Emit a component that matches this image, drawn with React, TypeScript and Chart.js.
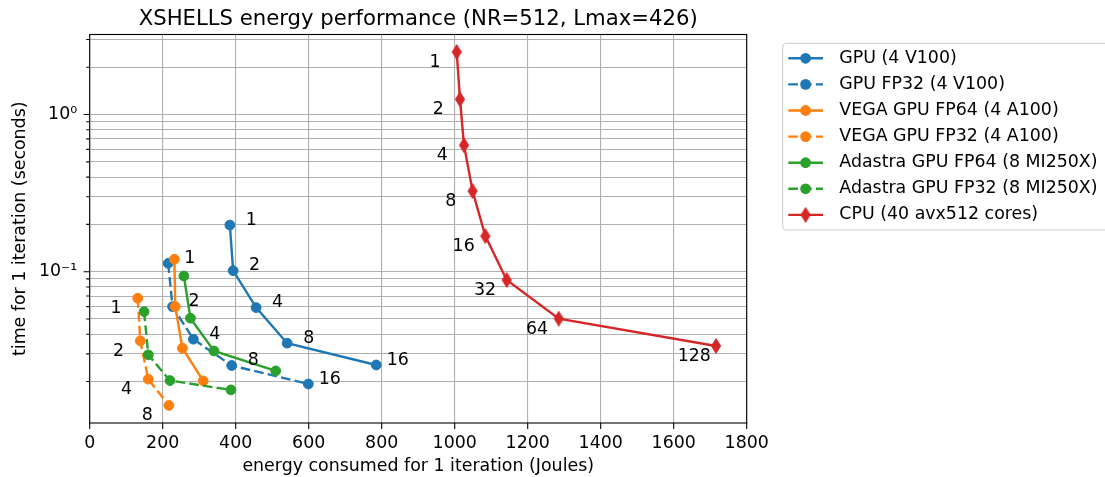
import React, { useEffect, useRef } from "react";
import { Chart, registerables } from "chart.js";

Chart.register(...registerables);

const FONT = "'DejaVu Sans', 'Liberation Sans', sans-serif";

// ---- data ----
const seriesLabels = [
  "GPU (4 V100)",
  "GPU FP32 (4 V100)",
  "VEGA GPU FP64 (4 A100)",
  "VEGA GPU FP32 (4 A100)",
  "Adastra GPU FP64 (8 MI250X)",
  "Adastra GPU FP32 (8 MI250X)",
  "CPU (40 avx512 cores)",
];

const gpuV100X = [384, 393, 456, 541, 785];
const gpuV100Y = [0.198, 0.1015, 0.0591, 0.0351, 0.0255];
const gpuV100F32X = [215, 227, 284, 389, 599];
const gpuV100F32Y = [0.113, 0.0599, 0.0372, 0.0253, 0.0193];
const vegaF64X = [232, 234.5, 254, 311];
const vegaF64Y = [0.12, 0.0599, 0.0326, 0.0202];
const vegaF32X = [131.5, 138.6, 160.5, 217];
const vegaF32Y = [0.0678, 0.0363, 0.0207, 0.0141];
const adastraF64X = [258, 276, 340.5, 509.6];
const adastraF64Y = [0.0939, 0.0506, 0.0313, 0.0234];
const adastraF32X = [149, 160.5, 220, 387];
const adastraF32Y = [0.0557, 0.0296, 0.0203, 0.0177];
const cpuX = [1005.5, 1014.5, 1025.5, 1049, 1084, 1142.5, 1285, 1716];
const cpuY = [2.5, 1.25, 0.638, 0.326, 0.1685, 0.0886, 0.0503, 0.0337];

const gpuCounts = [1, 2, 4, 8, 16];
const vegaCounts = [1, 2, 4, 8];
const cpuCounts = [1, 2, 4, 8, 16, 32, 64, 128];

const xTicks = [0, 200, 400, 600, 800, 1000, 1200, 1400, 1600, 1800];
const yTicks = [
  0.02, 0.03, 0.04, 0.05, 0.06, 0.07, 0.08, 0.09,
  0.1, 0.2, 0.3, 0.4, 0.5, 0.6, 0.7, 0.8, 0.9,
  1, 2, 3,
];
const yMajorTicks = [0.1, 1];
const yMajorLabels = ["10⁻¹", "10⁰"];

const X_MIN = 0;
const X_MAX = 1800;
const Y_MIN = 0.0109;
const Y_MAX = 3.23;

const title = "XSHELLS energy performance (NR=512, Lmax=426)";
const xTitle = "energy consumed for 1 iteration (Joules)";
const yTitle = "time for 1 iteration (seconds)";

const BLUE = "#1f77b4";
const ORANGE = "#ff7f0e";
const GREEN = "#2ca02c";
const RED = "#d62728";

const pts = (xs: number[], ys: number[]) => xs.map((x, i) => ({ x, y: ys[i] }));

function makeDiamond(color: string) {
  const c = document.createElement("canvas");
  c.width = 12;
  c.height = 16;
  const g = c.getContext("2d")!;
  g.fillStyle = color;
  g.strokeStyle = color;
  g.lineWidth = 1.2;
  g.beginPath();
  g.moveTo(6, 1.0);
  g.lineTo(10.4, 8);
  g.lineTo(6, 15.0);
  g.lineTo(1.6, 8);
  g.closePath();
  g.fill();
  g.stroke();
  return c;
}

export default function App() {
  const ref = useRef<HTMLCanvasElement | null>(null);

  useEffect(() => {
    document.body.style.margin = "0";
    const canvas = ref.current;
    if (!canvas) return;
    const diamond = makeDiamond(RED);
    const DASH = [9.6, 4.2];
    const LW = 2.4;
    const PR = 4.9;

    const mk = (i: number, data: any[], color: string, dashed: boolean, extra: any = {}) => ({
      label: seriesLabels[i],
      data,
      borderColor: color,
      backgroundColor: color,
      borderWidth: LW,
      borderDash: dashed ? DASH : [],
      pointRadius: PR,
      pointBorderWidth: 1,
      pointBackgroundColor: color,
      pointBorderColor: color,
      tension: 0,
      fill: false,
      order: 7 - i,
      dashed,
      ...extra,
    });

    const datasets: any[] = [
      mk(0, pts(gpuV100X, gpuV100Y), BLUE, false, { notes: gpuCounts, noteSide: "right" }),
      mk(1, pts(gpuV100F32X, gpuV100F32Y), BLUE, true, { notes: gpuCounts, noteSide: "right" }),
      mk(2, pts(vegaF64X, vegaF64Y), ORANGE, false),
      mk(3, pts(vegaF32X, vegaF32Y), ORANGE, true, { notes: vegaCounts, noteSide: "left" }),
      mk(4, pts(adastraF64X, adastraF64Y), GREEN, false),
      mk(5, pts(adastraF32X, adastraF32Y), GREEN, true),
      mk(6, pts(cpuX, cpuY), RED, false, {
        pointStyle: diamond,
        notes: cpuCounts,
        noteSide: "left",
        marker: "diamond",
      }),
    ];

    const decor = {
      id: "decor",
      afterDatasetsDraw(chart: any) {
        const ctx = chart.ctx;
        ctx.save();
        ctx.font = `17.4px ${FONT}`;
        ctx.fillStyle = "#000";
        ctx.textAlign = "center";
        ctx.textBaseline = "middle";
        chart.data.datasets.forEach((ds: any, i: number) => {
          if (!ds.notes) return;
          const meta = chart.getDatasetMeta(i);
          const dx = ds.noteSide === "left" ? -21.7 : 21.5;
          const dy = ds.noteSide === "left" ? 10.5 : -5;
          meta.data.forEach((p: any, j: number) => {
            ctx.fillText(String(ds.notes[j]), p.x + dx, p.y + dy);
          });
        });
        ctx.restore();
      },
      afterDraw(chart: any) {
        const { ctx, chartArea: ca, scales } = chart;
        ctx.save();
        // frame
        ctx.strokeStyle = "#000";
        ctx.lineWidth = 1.1;
        ctx.strokeRect(ca.left, ca.top, ca.right - ca.left, ca.bottom - ca.top);
        // tick marks
        ctx.beginPath();
        xTicks.forEach((v) => {
          const px = scales.x.getPixelForValue(v);
          ctx.moveTo(px, ca.bottom);
          ctx.lineTo(px, ca.bottom + 6.1);
        });
        yTicks.forEach((v) => {
          const py = scales.y.getPixelForValue(v);
          const len = yMajorTicks.includes(v) ? 6.1 : 3.5;
          ctx.moveTo(ca.left - len, py);
          ctx.lineTo(ca.left, py);
        });
        ctx.stroke();

        // title
        ctx.fillStyle = "#000";
        ctx.font = `21.2px ${FONT}`;
        ctx.textAlign = "center";
        ctx.textBaseline = "alphabetic";
        ctx.fillText(title, (ca.left + ca.right) / 2, ca.top - 9.8);

        // legend
        const lx = 782.7, ly = 43.3, lw = 340, lh = 186.7, r = 3.5;
        ctx.beginPath();
        ctx.moveTo(lx + r, ly);
        ctx.lineTo(lx + lw - r, ly);
        ctx.arcTo(lx + lw, ly, lx + lw, ly + r, r);
        ctx.lineTo(lx + lw, ly + lh - r);
        ctx.arcTo(lx + lw, ly + lh, lx + lw - r, ly + lh, r);
        ctx.lineTo(lx + r, ly + lh);
        ctx.arcTo(lx, ly + lh, lx, ly + lh - r, r);
        ctx.lineTo(lx, ly + r);
        ctx.arcTo(lx, ly, lx + r, ly, r);
        ctx.closePath();
        ctx.fillStyle = "rgba(255,255,255,0.8)";
        ctx.fill();
        ctx.strokeStyle = "#cccccc";
        ctx.lineWidth = 1;
        ctx.stroke();

        chart.data.datasets.forEach((ds: any, i: number) => {
          const y = 58.3 + 26.1 * i;
          ctx.strokeStyle = ds.borderColor;
          ctx.lineWidth = LW;
          ctx.setLineDash(ds.dashed ? DASH : []);
          ctx.beginPath();
          ctx.moveTo(788.3, y);
          ctx.lineTo(823, y);
          ctx.stroke();
          ctx.setLineDash([]);
          if (ds.marker === "diamond") {
            ctx.drawImage(diamond, 805.6 - diamond.width / 2, y - diamond.height / 2);
          } else {
            ctx.fillStyle = ds.borderColor;
            ctx.beginPath();
            ctx.arc(805.6, y, PR + 0.5, 0, Math.PI * 2);
            ctx.fill();
          }
          ctx.fillStyle = "#000";
          ctx.font = `17.4px ${FONT}`;
          ctx.textAlign = "left";
          ctx.textBaseline = "middle";
          ctx.fillText(ds.label, 839.3, y);
        });
        ctx.restore();
      },
    };

    const chart = new Chart(canvas, {
      type: "line",
      data: { datasets },
      options: {
        responsive: false,
        animation: false,
        devicePixelRatio: 1,
        events: [],
        layout: { padding: { left: 0, top: 34.5, right: 1105 - 746.7, bottom: 0 } },
        plugins: {
          legend: { display: false },
          title: { display: false },
          tooltip: { enabled: false },
        },
        scales: {
          x: {
            type: "linear",
            min: X_MIN,
            max: X_MAX,
            bounds: "data",
            afterFit: (s: any) => {
              s.height = 477 - 423;
            },
            afterBuildTicks: (s: any) => {
              s.ticks = xTicks.map((v) => ({ value: v }));
            },
            grid: { color: "#b0b0b0", lineWidth: 1.1, drawTicks: false },
            border: { display: false },
            ticks: {
              autoSkip: false,
              maxRotation: 0,
              padding: 10.4,
              color: "#000",
              font: { family: FONT, size: 17.4 },
              callback: (v: any) => String(v),
            },
            title: {
              display: true,
              text: xTitle,
              color: "#000",
              font: { family: FONT, size: 17.4 },
              padding: { top: 0, bottom: 0 },
            },
          },
          y: {
            type: "logarithmic",
            min: Y_MIN,
            max: Y_MAX,
            bounds: "data",
            afterFit: (s: any) => {
              s.width = 89.7;
            },
            afterBuildTicks: (s: any) => {
              s.ticks = yTicks.map((v) => ({ value: v, major: false }));
            },
            grid: { color: "#b0b0b0", lineWidth: 1.1, drawTicks: false },
            border: { display: false },
            ticks: {
              autoSkip: false,
              padding: 12.5,
              color: "#000",
              major: { enabled: false },
              font: { family: FONT, size: 17.4 },
              callback: (v: any) => {
                const k = yMajorTicks.findIndex((m) => Math.abs(m - Number(v)) < 1e-9);
                return k >= 0 ? yMajorLabels[k] : "";
              },
            },
            title: {
              display: true,
              text: yTitle,
              color: "#000",
              font: { family: FONT, size: 17.4 },
              padding: { top: 9.6, bottom: 0 },
            },
          },
        },
      } as any,
      plugins: [decor],
    });

    return () => chart.destroy();
  }, []);

  return (
    <div style={{ width: 1105, height: 477, position: "relative", background: "#fff" }}>
      <canvas ref={ref} width={1105} height={477} style={{ display: "block", width: 1105, height: 477 }} />
    </div>
  );
}
